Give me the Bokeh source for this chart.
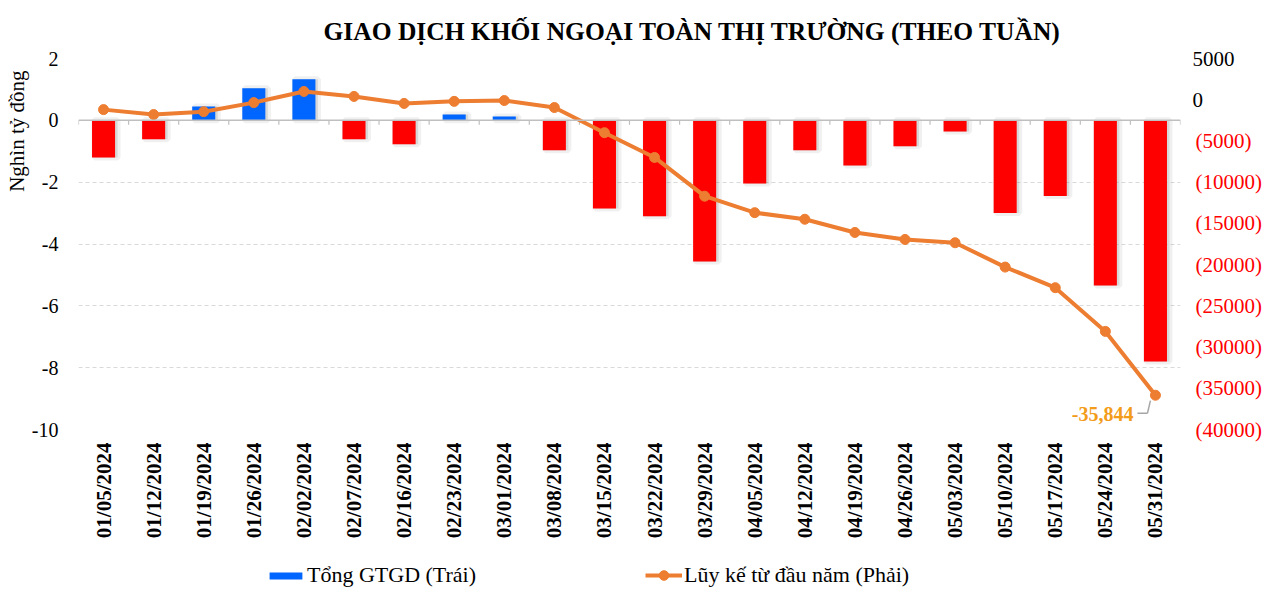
from math import pi
from bokeh.plotting import figure
from bokeh.layouts import column
from bokeh.models import (FactorRange, Range1d, LinearAxis, FixedTicker, CustomJSTickFormatter,
                          Legend, LegendItem, Span, Title, ColumnDataSource)
from bokeh.transform import dodge
from bokeh.core.properties import value
from bokeh.embed import file_html
from bokeh.resources import INLINE

# ---------------- data ----------------
dates = ["01/05/2024", "01/12/2024", "01/19/2024", "01/26/2024", "02/02/2024", "02/07/2024",
         "02/16/2024", "02/23/2024", "03/01/2024", "03/08/2024", "03/15/2024", "03/22/2024",
         "03/29/2024", "04/05/2024", "04/12/2024", "04/19/2024", "04/26/2024", "05/03/2024",
         "05/10/2024", "05/17/2024", "05/24/2024", "05/31/2024"]
# Tổng GTGD (nghìn tỷ đồng) – left axis
weekly = [-1.2, -0.61, 0.45, 1.04, 1.33, -0.61, -0.77, 0.19, 0.12, -0.97, -2.85, -3.1,
          -4.57, -2.04, -0.97, -1.46, -0.84, -0.36, -3.0, -2.45, -5.34, -7.8]
# Lũy kế từ đầu năm (tỷ đồng) – right axis
cumulative = [-1200, -1800, -1450, -350, 1000, 400, -450, -200, -100, -950, -4000, -7000,
              -11700, -13700, -14500, -16100, -16950, -17350, -20300, -22800, -28100, -35844]
left_ticks = [2, 0, -2, -4, -6, -8, -10]
right_ticks = [5000, 0, -5000, -10000, -15000, -20000, -25000, -30000, -35000, -40000]

title_text = "GIAO DỊCH KHỐI NGOẠI TOÀN THỊ TRƯỜNG (THEO TUẦN)"
left_title = "Nghìn tỷ đồng"
bar_label = "Tổng GTGD (Trái)"
line_label = "Lũy kế từ đầu năm (Phải)"

FONT = "Liberation Serif"
BLUE = "#0066FF"
RED = "#FF0000"
ORANGE = "#ED7D31"

W, H_MAIN, H_LEG = 1264, 548, 40
BL, BR = 78, 78

colors = [BLUE if v > 0 else RED for v in weekly]
src = ColumnDataSource(dict(date=dates, val=weekly, cum=cumulative, color=colors))

p = figure(width=W, height=H_MAIN, x_range=FactorRange(*dates), y_range=Range1d(left_ticks[-1], left_ticks[0]),
           output_backend="svg", toolbar_location=None,
           min_border_left=BL, min_border_right=BR, min_border_top=58, min_border_bottom=119)
p.outline_line_color = None
p.extra_y_ranges = {"right": Range1d(right_ticks[-1], right_ticks[0])}

# title
p.title.text = title_text
p.title.text_font = FONT
p.title.text_font_size = "25.5px"
p.title.text_font_style = "bold"
p.title.text_color = "black"
p.title.align = "left"
p.title.offset = 245
p.title.standoff = 26

# left title
p.add_layout(Title(text=left_title, align="right", offset=12, text_font=FONT, text_font_size="21px",
                   text_font_style="normal", text_color="black", standoff=0), "left")

# grid
p.xgrid.grid_line_color = None
p.ygrid.ticker = FixedTicker(ticks=[t for t in left_ticks if t != 0])
p.ygrid.grid_line_color = "#d9d9d9"
p.ygrid.grid_line_dash = "4 3"
p.ygrid.grid_line_width = 1

# left axis
ya = p.yaxis[0]
ya.ticker = FixedTicker(ticks=left_ticks)
ya.formatter = CustomJSTickFormatter(code="return tick.toString();")
ya.axis_line_color = None
ya.major_tick_line_color = None
ya.minor_tick_line_color = None
ya.major_tick_out = 0
ya.major_label_text_font = FONT
ya.major_label_text_font_size = "20px"
ya.major_label_text_color = "black"
ya.major_label_standoff = 20

# x axis
xa = p.xaxis[0]
xa.axis_line_color = None
xa.major_tick_line_color = None
xa.major_label_orientation = pi / 2
xa.major_label_text_font = FONT
xa.major_label_text_font_size = "21px"
xa.major_label_text_font_style = "bold"
xa.major_label_text_color = "black"
xa.major_label_standoff = 7


def right_axis(ticks, color, standoff, code):
    ax = LinearAxis(y_range_name="right", ticker=FixedTicker(ticks=ticks),
                    formatter=CustomJSTickFormatter(code=code))
    ax.axis_line_color = None
    ax.major_tick_line_color = None
    ax.minor_tick_line_color = None
    ax.major_tick_out = 0
    ax.major_tick_in = 0
    ax.minor_tick_out = 0
    ax.major_label_text_font = FONT
    ax.major_label_text_font_size = "21px"
    ax.major_label_text_color = color
    ax.major_label_standoff = standoff
    return ax


# right axis: non-negative labels in black (inner), negative labels in red with
# parentheses (outer, pulled back onto the same column)
R_STANDOFF = 12
BLACK_W = R_STANDOFF + 42
p.add_layout(right_axis([t for t in right_ticks if t >= 0], "black", R_STANDOFF,
                        "return tick.toString();"), "right")
p.add_layout(right_axis([t for t in right_ticks if t < 0], RED, R_STANDOFF - BLACK_W,
                        "return '(' + (-tick) + ')';"), "right")

# bar shadows
p.vbar(x=dodge("date", 0.05, range=p.x_range), top="val", width=0.46, source=src,
       fill_color="#808080", fill_alpha=0.22, line_color="#808080", line_alpha=0.12, line_width=6)
bars = p.vbar(x="date", top="val", width=0.46, source=src, fill_color="color", line_color=None)

# zero axis line + category ticks
p.add_layout(Span(location=0, dimension="width", line_color="#bfbfbf", line_width=1.5))
tick_src = ColumnDataSource(dict(date=dates, y0=[0] * len(dates), y1=[-0.14] * len(dates)))
p.segment(x0=dodge("date", -0.5, range=p.x_range), x1=dodge("date", -0.5, range=p.x_range),
          y0="y0", y1="y1", source=tick_src, line_color="#bfbfbf", line_width=1.2)
end_src = ColumnDataSource(dict(date=dates[-1:], y0=[0], y1=[-0.14]))
p.segment(x0=dodge("date", 0.5, range=p.x_range), x1=dodge("date", 0.5, range=p.x_range),
          y0="y0", y1="y1", source=end_src, line_color="#bfbfbf", line_width=1.2)

# cumulative line
line = p.line(x="date", y="cum", source=src, y_range_name="right", line_color=ORANGE, line_width=4)
dots = p.scatter(x="date", y="cum", source=src, y_range_name="right", size=10,
                 fill_color=ORANGE, line_color=ORANGE)

# last value annotation
ann = ColumnDataSource(dict(date=dates[-1:], cum=cumulative[-1:],
                            ya=[cumulative[-1] - 2200], yb=[cumulative[-1] - 650],
                            txt=[f"{cumulative[-1]:,}"]))
p.segment(x0=dodge("date", -0.36, range=p.x_range), x1=dodge("date", -0.16, range=p.x_range),
          y0="ya", y1="ya", source=ann, y_range_name="right", line_color="#a6a6a6", line_width=1.5)
p.segment(x0=dodge("date", -0.16, range=p.x_range), x1=dodge("date", -0.1, range=p.x_range),
          y0="ya", y1="yb", source=ann, y_range_name="right", line_color="#a6a6a6", line_width=1.5)
p.text(x="date", y="cum", text="txt", source=ann, y_range_name="right",
       x_offset=-22, y_offset=19, text_align="right", text_baseline="middle",
       text_color="#F39C1A", text_font=value(FONT), text_font_size="20px", text_font_style="bold")

# legend strip (separate figure below the chart; legend swatches use the same styles,
# their stand-in glyphs sit outside the strip's visible range)
pl = figure(width=W, height=H_LEG, output_backend="svg", toolbar_location=None,
            x_axis_type=None, y_axis_type=None, min_border=0,
            x_range=Range1d(0, 1), y_range=Range1d(0, 1))
pl.outline_line_color = None
pl.grid.visible = False
lb = pl.vbar(x=[-5], top=[-5], bottom=[-6], width=0.5, fill_color=BLUE, line_color=None)
ll = pl.line(x=[-5, -4], y=[-5, -5], line_color=ORANGE, line_width=4)
ls = pl.scatter(x=[-5], y=[-5], size=10, fill_color=ORANGE, line_color=ORANGE)
common = dict(orientation="horizontal", label_text_font=FONT, label_text_font_size="22px",
              label_text_color="black", border_line_color=None, background_fill_alpha=0,
              padding=0, margin=0)
leg1 = Legend(items=[LegendItem(label=bar_label, renderers=[lb])], location=(187, 0),
              glyph_width=41, glyph_height=9, label_standoff=1, **common)
leg2 = Legend(items=[LegendItem(label=line_label, renderers=[ll, ls])], location=(567, 0),
              glyph_width=37, glyph_height=24, label_standoff=2, **common)
pl.add_layout(leg1, "center")
pl.add_layout(leg2, "center")

open("out.html", "w").write(file_html(column(p, pl, spacing=0), INLINE))
